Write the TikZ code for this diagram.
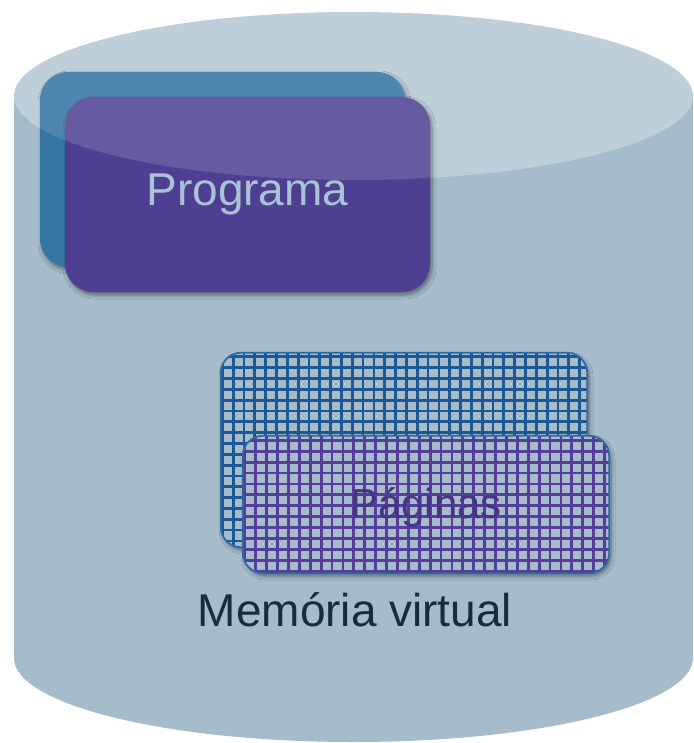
\documentclass[tikz,border=0pt]{standalone}
\usepackage{fontspec}
\setmainfont{Liberation Sans}
\usetikzlibrary{shadows.blur,calc}
\definecolor{bodycol}{HTML}{A6BCCB}
\definecolor{topface}{HTML}{BFCFDA}
\definecolor{progblue}{HTML}{3676A2}
\definecolor{progpurple}{HTML}{4E3F92}
\definecolor{progtext}{HTML}{A9C3D4}
\definecolor{gridblue}{HTML}{1C5893}
\definecolor{gridpurple}{HTML}{553D9C}
\definecolor{pageborder}{HTML}{2D6AA6}
\definecolor{labeltext}{HTML}{1A2B3A}
\tikzset{
  softshadow/.style={blur shadow={shadow xshift=2pt, shadow yshift=-3pt, shadow opacity=45, shadow blur steps=6, shadow blur radius=4pt}},
  progbox/.style={rounded corners=28pt, minimum width=365pt, minimum height=195pt, inner sep=0pt, softshadow},
  pagebox/.style={rounded corners=20pt, inner sep=0pt, fill=bodycol, minimum width=366pt, softshadow},
  gridline/.style={line width=2.8pt},
  pageedge/.style={draw=pageborder, line width=1.8pt, rounded corners=20pt},
  bigtext/.style={font=\fontsize{46}{50}\selectfont},
}
\begin{document}
\begin{tikzpicture}[x=1pt,y=-1pt]
\useasboundingbox (0,0) rectangle (693,743);
% cylinder body
\fill[bodycol] (14,96) rectangle (693,658);
\fill[bodycol] (353.5,658) ellipse[x radius=339.5, y radius=84];
\fill[topface] (353.5,96) ellipse[x radius=339.5, y radius=84];
% Programa boxes
\node[progbox, fill=progblue] (progback) at (222.5,169.5) {};
\begin{scope}
  \clip[rounded corners=28pt] (progback.north west) rectangle (progback.south east);
  \fill[white, opacity=0.12] (353.5,96) ellipse[x radius=339.5, y radius=84];
\end{scope}
\node[progbox, fill=progpurple, text=progtext, bigtext] (progfront) at (247.5,194.5) {Programa};
\begin{scope}
  \clip[rounded corners=28pt] (progfront.north west) rectangle (progfront.south east);
  \fill[white, opacity=0.14] (353.5,96) ellipse[x radius=339.5, y radius=84];
\end{scope}
% pages back
\node[pagebox, minimum height=194pt] (pgback) at (404,450) {};
\begin{scope}
  \clip[rounded corners=20pt] (pgback.north west) rectangle (pgback.south east);
  \foreach \k in {0,...,34} {
    \draw[gridblue, gridline] ($(pgback.north west)+(\k*10.83+1.5,0)$) -- ++(0,200);
  }
  \foreach \k in {0,...,18} {
    \draw[gridblue, gridline] ($(pgback.north west)+(0,\k*10.83+4)$) -- ++(370,0);
  }
\end{scope}
\draw[pageedge] (pgback.north west) rectangle (pgback.south east);
% pages front
\node[pagebox, minimum height=137pt] (pgfront) at (426,504.5) {};
\begin{scope}
  \clip[rounded corners=20pt] (pgfront.north west) rectangle (pgfront.south east);
  \foreach \k in {0,...,34} {
    \draw[gridpurple, gridline] ($(pgfront.north west)+(\k*10.9+2,0)$) -- ++(0,140);
  }
  \foreach \k in {0,...,13} {
    \draw[gridpurple, gridline] ($(pgfront.north west)+(0,\k*10.9+4.5)$) -- ++(370,0);
  }
\end{scope}
\draw[pageedge] (pgfront.north west) rectangle (pgfront.south east);
\node[text=gridpurple!85!black, font=\fontsize{42}{46}\selectfont] (paginas) at ([yshift=-3pt]pgfront.center) {Páginas};
% label
\node[text=labeltext, bigtext] (memlabel) at (355,610) {Memória virtual};
\end{tikzpicture}
\end{document}
